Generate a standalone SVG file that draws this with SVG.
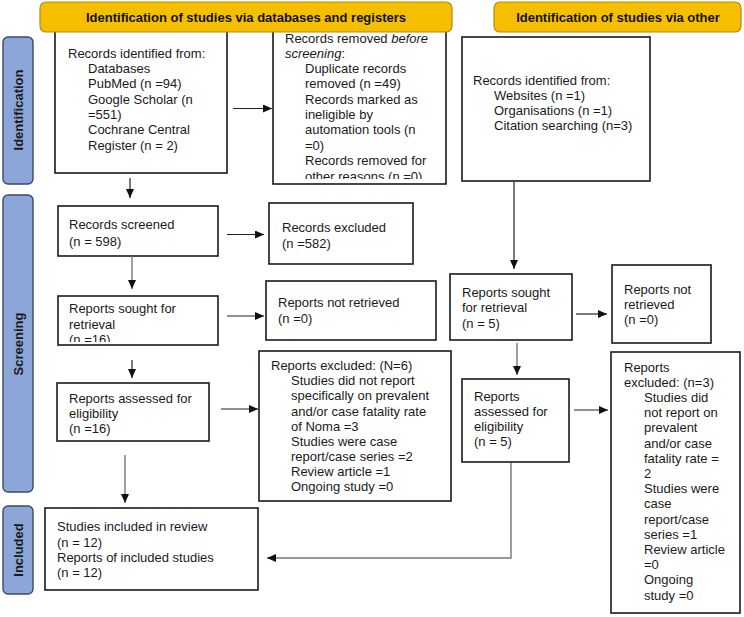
<svg xmlns="http://www.w3.org/2000/svg" width="744" height="617" viewBox="0 0 744 617">
<style>
text{font-family:"Liberation Sans",Arial,sans-serif;font-size:13px;fill:#1a1a1a}
.hd{font-weight:bold;font-size:13px;text-anchor:middle;fill:#111}
.sd{font-weight:bold;font-size:13px;text-anchor:middle;fill:#1a1a1a}
.box{fill:#fff;stroke:#1a1a1a;stroke-width:1.6}
.head{fill:#F5BF00;stroke:#B48A12;stroke-width:1.2}
.side{fill:#8CA6DA;stroke:#3B4A66;stroke-width:1.4}
.ln{fill:none;stroke:#222;stroke-width:1.2}
.lg{fill:none;stroke:#777;stroke-width:1.4}
</style>
<defs>
<marker id="ah" markerWidth="9" markerHeight="8" refX="9" refY="4" orient="auto" markerUnits="userSpaceOnUse">
<path d="M0,0 L9,4 L0,8 Z" fill="#111"/>
</marker>
<clipPath id="c2"><rect x="273" y="28" width="173" height="151"/></clipPath>
<clipPath id="c6"><rect x="58" y="296" width="160" height="46"/></clipPath>
</defs>

<g id="n-records-identified-db">
<rect class="box" x="55" y="26" width="172" height="147"/>
<text x="68" y="58">Records identified from:</text>
<text x="88" y="73">Databases</text>
<text x="88" y="88">PubMed (n =94)</text>
<text x="88" y="104">Google Scholar (n</text>
<text x="88" y="119">=551)</text>
<text x="88" y="134">Cochrane Central</text>
<text x="88" y="150">Register (n = 2)</text>
</g>

<g id="n-records-removed">
<rect class="box" x="273" y="26" width="173" height="158"/>
<g clip-path="url(#c2)">
<text x="285" y="43">Records removed <tspan font-style="italic">before</tspan></text>
<text x="285" y="58"><tspan font-style="italic">screening</tspan>:</text>
<text x="305" y="73">Duplicate records</text>
<text x="305" y="88">removed (n =49)</text>
<text x="305" y="104">Records marked as</text>
<text x="305" y="119">ineligible by</text>
<text x="305" y="134">automation tools (n</text>
<text x="305" y="150">=0)</text>
<text x="305" y="165">Records removed for</text>
<text x="305" y="181">other reasons (n =0)</text>
</g>
</g>

<g id="n-records-identified-other">
<rect class="box" x="462" y="37" width="188" height="144"/>
<text x="473" y="85">Records identified from:</text>
<text x="494" y="100">Websites (n =1)</text>
<text x="494" y="115">Organisations (n =1)</text>
<text x="494" y="130">Citation searching (n=3)</text>
</g>

<g id="h-databases">
<rect class="head" x="40" y="2" width="412" height="30" rx="6"/>
<text class="hd" x="246" y="22">Identification of studies via databases and registers</text>
</g>
<g id="h-other">
<rect class="head" x="494" y="2" width="247" height="30" rx="6"/>
<text class="hd" x="618" y="22">Identification of studies via other</text>
</g>

<g id="s-identification">
<rect class="side" x="3" y="37" width="30" height="147" rx="5"/>
<text class="sd" transform="translate(23,110) rotate(-90)">Identification</text>
</g>
<g id="s-screening">
<rect class="side" x="3" y="195" width="30" height="297" rx="5"/>
<text class="sd" transform="translate(23,344) rotate(-90)">Screening</text>
</g>
<g id="s-included">
<rect class="side" x="3" y="506" width="30" height="88" rx="5"/>
<text class="sd" transform="translate(23,550) rotate(-90)">Included</text>
</g>

<g id="n-records-screened">
<rect class="box" x="58" y="206" width="160" height="50"/>
<text x="69" y="229">Records screened</text>
<text x="69" y="246">(n = 598)</text>
</g>

<g id="n-records-excluded">
<rect class="box" x="269" y="203" width="144" height="61"/>
<text x="282" y="232">Records excluded</text>
<text x="282" y="248">(n =582)</text>
</g>

<g id="n-reports-sought-db">
<rect class="box" x="58" y="296" width="160" height="49"/>
<g clip-path="url(#c6)">
<text x="69" y="313">Reports sought for</text>
<text x="69" y="329">retrieval</text>
<text x="69" y="344">(n =16)</text>
</g>
</g>

<g id="n-reports-not-retrieved-db">
<rect class="box" x="266" y="281" width="170" height="59"/>
<text x="278" y="307">Reports not retrieved</text>
<text x="278" y="323">(n =0)</text>
</g>

<g id="n-reports-assessed-db">
<rect class="box" x="57" y="383" width="152" height="58"/>
<text x="69" y="403">Reports assessed for</text>
<text x="69" y="418">eligibility</text>
<text x="69" y="433">(n =16)</text>
</g>

<g id="n-reports-excluded-db">
<rect class="box" x="259" y="351" width="192" height="150"/>
<text x="271" y="369.5">Reports excluded: (N=6)</text>
<text x="291" y="385">Studies did not report</text>
<text x="291" y="400">specifically on prevalent</text>
<text x="291" y="415.5">and/or case fatality rate</text>
<text x="291" y="431">of Noma =3</text>
<text x="291" y="446">Studies were case</text>
<text x="291" y="461">report/case series =2</text>
<text x="291" y="476">Review article =1</text>
<text x="291" y="491">Ongoing study =0</text>
</g>

<g id="n-included">
<rect class="box" x="45" y="508" width="213" height="82"/>
<text x="57" y="531">Studies included in review</text>
<text x="57" y="546.5">(n = 12)</text>
<text x="57" y="561.5">Reports of included studies</text>
<text x="57" y="577">(n = 12)</text>
</g>

<g id="n-reports-sought-other">
<rect class="box" x="450" y="274" width="122" height="66"/>
<text x="462" y="297">Reports sought</text>
<text x="462" y="312">for retrieval</text>
<text x="462" y="328">(n = 5)</text>
</g>

<g id="n-reports-not-retrieved-other">
<rect class="box" x="612" y="265" width="99" height="78"/>
<text x="624" y="294">Reports not</text>
<text x="624" y="309">retrieved</text>
<text x="624" y="324">(n =0)</text>
</g>

<g id="n-reports-assessed-other">
<rect class="box" x="462" y="379" width="107" height="83"/>
<text x="474" y="401">Reports</text>
<text x="474" y="416">assessed for</text>
<text x="474" y="431">eligibility</text>
<text x="474" y="446">(n = 5)</text>
</g>

<g id="n-reports-excluded-other">
<rect class="box" x="611" y="352" width="129" height="261"/>
<text x="624" y="371.5">Reports</text>
<text x="624" y="386.7">excluded: (n=3)</text>
<text x="644" y="401.9">Studies did</text>
<text x="644" y="417.1">not report on</text>
<text x="644" y="432.3">prevalent</text>
<text x="644" y="447.5">and/or case</text>
<text x="644" y="462.7">fatality rate =</text>
<text x="644" y="477.9">2</text>
<text x="644" y="493.1">Studies were</text>
<text x="644" y="508.3">case</text>
<text x="644" y="523.5">report/case</text>
<text x="644" y="538.7">series =1</text>
<text x="644" y="553.9">Review article</text>
<text x="644" y="569.1">=0</text>
<text x="644" y="584.3">Ongoing</text>
<text x="644" y="599.5">study =0</text>
</g>

<g id="connectors">
<path class="ln" d="M233,108.5 H272" marker-end="url(#ah)"/>
<path class="ln" d="M130,178 V198" marker-end="url(#ah)"/>
<path class="ln" d="M227,234.5 H264" marker-end="url(#ah)"/>
<path class="lg" d="M132,256 V289" marker-end="url(#ah)"/>
<path class="ln" d="M227,316 H264" marker-end="url(#ah)"/>
<path class="ln" d="M132,360 V378" marker-end="url(#ah)"/>
<path class="ln" d="M221,409 H258" marker-end="url(#ah)"/>
<path class="lg" d="M125,455 V503" marker-end="url(#ah)"/>
<path class="ln" d="M514,182 V269" marker-end="url(#ah)"/>
<path class="ln" d="M576,314 H607" marker-end="url(#ah)"/>
<path class="lg" d="M517,343 V375" marker-end="url(#ah)"/>
<path class="ln" d="M574,410 H608" marker-end="url(#ah)"/>
<path class="lg" d="M511,463 V558 H267" marker-end="url(#ah)"/>
</g>
</svg>
